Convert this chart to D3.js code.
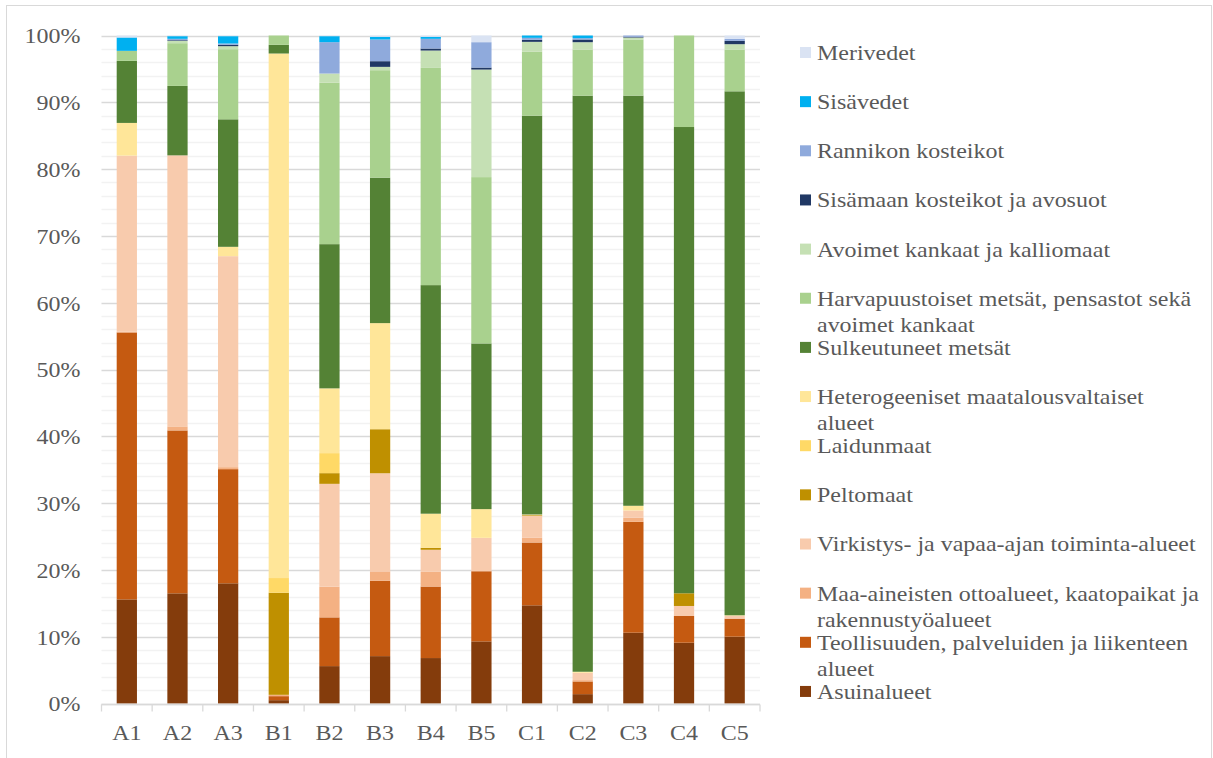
<!DOCTYPE html>
<html>
<head>
<meta charset="utf-8">
<script src="https://cdn.jsdelivr.net/npm/d3@7"></script>
<style>
  body { margin: 0; background: #fff; }
  text { font-family: "Liberation Serif", "Times New Roman", serif; fill: #595959; }
</style>
</head>
<body>
<div id="chart"></div>
<script>
const categories = ['A1','A2','A3','B1','B2','B3','B4','B5','C1','C2','C3','C4','C5'];

// shares (%) per land-use class
const asuinalueet     = [15.6, 16.5, 18.0,  0.5,  5.6,  7.1,  6.8,  9.3, 14.7,  1.4, 10.6,  9.1, 10.0];
const teollisuus      = [40.0, 24.4, 17.1,  0.6,  7.3, 11.3, 10.7, 10.5,  9.4,  1.9, 16.6,  4.0,  2.7];
const maaAineisten    = [ 0.1,  0.6,  0.3,  0.2,  4.6,  1.4,  2.2,  0.0,  0.7,  0.2,  0.6,  0.0,  0.0];
const virkistys       = [26.4, 40.6, 31.6,  0.0, 15.4, 14.7,  3.3,  5.0,  3.3,  1.1,  1.1,  1.5,  0.4];
const peltomaat       = [ 0.0,  0.0,  0.0, 15.3,  1.6,  6.6,  0.3,  0.0,  0.1,  0.0,  0.0,  1.9,  0.0];
const laidunmaat      = [ 0.0,  0.0,  0.0,  2.2,  3.0,  0.0,  0.0,  0.0,  0.0,  0.0,  0.0,  0.0,  0.0];
const heterogeeniset  = [ 4.9,  0.0,  1.4, 78.6,  9.7, 15.9,  5.1,  4.3,  0.1, 0.15,  0.7,  0.0,  0.1];
const sulkeutuneet    = [ 9.3, 10.4, 19.1,  1.3, 21.6, 21.8, 34.2, 24.8, 59.7, 86.2, 61.4, 69.8, 78.4];
const harvapuustoiset = [ 1.5,  6.4, 10.5,  1.4, 24.2, 16.1, 32.5, 24.9,  9.6,  6.9,  8.4, 13.7,  6.2];
const avoimet         = [ 0.0, 0.35, 0.45,  0.0, 1.35,  0.5,  2.6, 16.1, 1.45,  1.1,  0.3,  0.0, 0.85];
const sisamaan        = [ 0.0,  0.1,  0.2,  0.0,  0.0, 0.85,  0.3,  0.3,  0.3,  0.4,  0.1,  0.0,  0.5];
const rannikon        = [ 0.0,  0.2,  0.2,  0.0,  4.7, 3.25, 1.45,  3.8,  0.3,  0.2,  0.2,  0.0,  0.3];
const sisavedet       = [ 2.0,  0.4,  1.1,  0.0,  0.9,  0.4,  0.3,  0.0, 0.35,  0.4,  0.0,  0.0,  0.0];
const merivedet       = [ 0.3,  0.1,  0.1,  0.0,  0.1,  0.2,  0.2,  1.0,  0.0,  0.0,  0.0,  0.0,  0.5];

const seriesNames = [
  'Asuinalueet',
  'Teollisuuden, palveluiden ja liikenteen\nalueet',
  'Maa-aineisten ottoalueet, kaatopaikat ja\nrakennustyöalueet',
  'Virkistys- ja vapaa-ajan toiminta-alueet',
  'Peltomaat',
  'Laidunmaat',
  'Heterogeeniset maatalousvaltaiset\nalueet',
  'Sulkeutuneet metsät',
  'Harvapuustoiset metsät, pensastot sekä\navoimet kankaat',
  'Avoimet kankaat ja kalliomaat',
  'Sisämaan kosteikot ja avosuot',
  'Rannikon kosteikot',
  'Sisävedet',
  'Merivedet'
];
const seriesValues = [asuinalueet, teollisuus, maaAineisten, virkistys, peltomaat, laidunmaat,
  heterogeeniset, sulkeutuneet, harvapuustoiset, avoimet, sisamaan, rannikon, sisavedet, merivedet];
const colors = ['#843C0C','#C55A11','#F4B183','#F8CBAD','#BF9000','#FFD966','#FFE699',
  '#548235','#A9D18E','#C5E0B4','#203864','#8FAADC','#00B0F0','#DAE3F3'];
const yTicks = [0, 0.1, 0.2, 0.3, 0.4, 0.5, 0.6, 0.7, 0.8, 0.9, 1];

const W = 1213, H = 758;
const M = {top: 35.5, left: 101.5, right: 453, bottom: 54.5};
const SX = 1.09; // the reference text is a little wider than plain Times

const table = categories.map((c, i) => {
  const row = {cat: c};
  seriesNames.forEach((n, j) => row[n] = seriesValues[j][i]);
  return row;
});

const svg = d3.select('#chart').append('svg')
  .attr('width', W).attr('height', H);

svg.append('rect')
  .attr('x', 6.5).attr('y', 5.5)
  .attr('width', W - 8).attr('height', H)
  .attr('fill', 'none').attr('stroke', '#d9d9d9');

const x = d3.scaleBand()
  .domain(categories)
  .range([M.left, W - M.right])
  .paddingInner(0.6).paddingOuter(0.3);

const band = d3.scaleBand().domain(categories).range([M.left, W - M.right]);

const y = d3.scaleLinear().domain([0, 1]).range([H - M.bottom, M.top]);

// gridlines: light every 2 %, darker every 10 %
const minor = d3.range(0, 1.0001, 0.02);
svg.append('g').selectAll('line').data(minor).join('line')
  .attr('x1', M.left).attr('x2', W - M.right)
  .attr('y1', d => Math.round(y(d)) + 0.5).attr('y2', d => Math.round(y(d)) + 0.5)
  .attr('stroke', (d, i) => i % 5 === 0 ? '#d9d9d9' : '#f2f2f2')
  .attr('stroke-width', 1.3);

const stack = d3.stack().keys(seriesNames).offset(d3.stackOffsetExpand);
const layers = stack(table);

svg.append('g').selectAll('g').data(layers).join('g')
  .attr('fill', (d, i) => colors[i])
  .selectAll('rect').data(d => d).join('rect')
    .attr('x', d => x(d.data.cat))
    .attr('width', x.bandwidth())
    .attr('y', d => y(d[1]))
    .attr('height', d => y(d[0]) - y(d[1]));

// y axis
const yAxis = svg.append('g')
  .attr('transform', `translate(${M.left},0)`)
  .call(d3.axisLeft(y).tickValues(yTicks).tickFormat(d3.format('.0%')).tickSize(0));
yAxis.select('.domain').remove();
yAxis.selectAll('text').style('font-size', '22px').attr('fill', '#595959')
  .attr('font-family', 'Liberation Serif').attr('dy', '0.34em')
  .attr('x', -21 / SX)
  .attr('transform', `scale(${SX},1)`);

// x axis: base line + boundary ticks + labels
const base = Math.round(y(0)) + 0.5;
svg.append('line')
  .attr('x1', M.left).attr('x2', W - M.right)
  .attr('y1', base).attr('y2', base)
  .attr('stroke', '#d9d9d9').attr('stroke-width', 1.3);
const edges = categories.map(c => band(c)).concat([W - M.right]);
svg.append('g').selectAll('line').data(edges).join('line')
  .attr('x1', d => d).attr('x2', d => d)
  .attr('y1', base).attr('y2', base + 7)
  .attr('stroke', '#d9d9d9').attr('stroke-width', 1.3);

const xAxis = svg.append('g')
  .attr('transform', `translate(0,${base})`)
  .call(d3.axisBottom(band).tickSize(0).tickPadding(20));
xAxis.select('.domain').remove();
xAxis.selectAll('text').style('font-size', '22px').attr('fill', '#595959')
  .attr('font-family', 'Liberation Serif')
  .attr('transform', `scale(${SX},1)`);

// legend, top entry = last series
const legend = svg.append('g');
const legendItems = seriesNames.map((n, i) => ({name: n, color: colors[i]})).reverse();
legendItems.forEach((d, i) => {
  const cy = 52.5 + i * 49.15;
  legend.append('rect')
    .attr('x', 800).attr('y', cy - 5.5)
    .attr('width', 11).attr('height', 11)
    .attr('fill', d.color);
  const t = legend.append('text')
    .attr('transform', `translate(817,${cy}) scale(${SX},1)`)
    .style('font-size', '22px');
  d.name.split('\n').forEach((line, k) => {
    t.append('tspan').attr('x', 0).attr('dy', k === 0 ? '0.34em' : '26px').text(line);
  });
});
</script>
</body>
</html>
